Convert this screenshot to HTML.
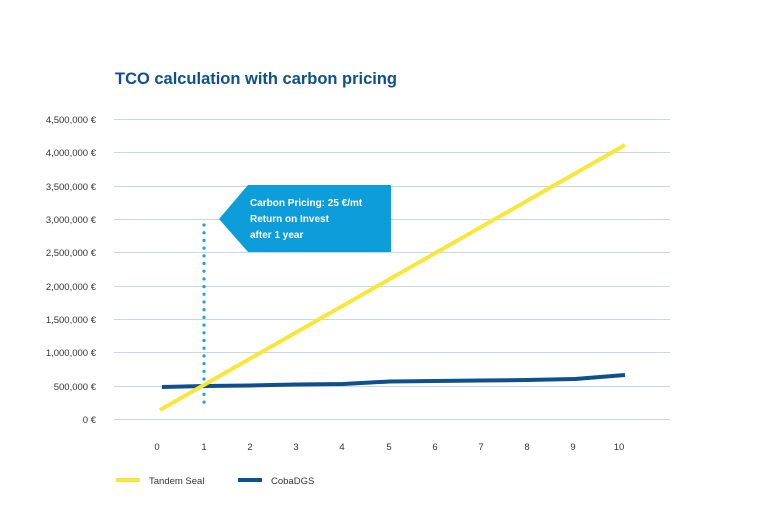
<!DOCTYPE html>
<html><head><style>
body{margin:0;background:#fff;}
svg{display:block;font-family:"Liberation Sans",sans-serif;}
</style></head><body>
<svg width="768" height="523" viewBox="0 0 768 523">
<text x="115" y="84" font-size="16.5" font-weight="bold" fill="#0f4f8c" textLength="282" lengthAdjust="spacingAndGlyphs">TCO calculation with carbon pricing</text>
<g stroke="#c9d8e6" stroke-width="1">
<line x1="114" x2="670" y1="119.5" y2="119.5"/><line x1="114" x2="670" y1="152.5" y2="152.5"/>
<line x1="114" x2="670" y1="186.5" y2="186.5"/><line x1="114" x2="670" y1="219.5" y2="219.5"/>
<line x1="114" x2="670" y1="252.5" y2="252.5"/><line x1="114" x2="670" y1="286.5" y2="286.5"/>
<line x1="114" x2="670" y1="319.5" y2="319.5"/><line x1="114" x2="670" y1="352.5" y2="352.5"/>
<line x1="114" x2="670" y1="386.5" y2="386.5"/><line x1="114" x2="670" y1="419.5" y2="419.5"/>
</g>
<g font-size="9.5" fill="#333" text-anchor="end">
<text x="96" y="123">4,500,000 €</text><text x="96" y="156">4,000,000 €</text>
<text x="96" y="190">3,500,000 €</text><text x="96" y="223">3,000,000 €</text>
<text x="96" y="256">2,500,000 €</text><text x="96" y="290">2,000,000 €</text>
<text x="96" y="323">1,500,000 €</text><text x="96" y="356">1,000,000 €</text>
<text x="96" y="390">500,000 €</text><text x="96" y="423">0 €</text>
</g>
<g font-size="9.5" fill="#333" text-anchor="middle">
<text x="157" y="450">0</text><text x="204" y="450">1</text><text x="250" y="450">2</text>
<text x="296" y="450">3</text><text x="342" y="450">4</text><text x="389" y="450">5</text>
<text x="435" y="450">6</text><text x="481" y="450">7</text><text x="527" y="450">8</text>
<text x="573" y="450">9</text><text x="619" y="450">10</text>
</g>
<polygon points="219,219 248,185 391,185 391,252 248,252" fill="#0d9ddb"/>
<g font-size="10" font-weight="bold" fill="#fff">
<text x="250" y="206">Carbon Pricing: 25 €/mt</text>
<text x="250" y="222">Return on Invest</text>
<text x="250" y="238">after 1 year</text>
</g>
<line x1="204" y1="225" x2="204" y2="409" stroke="#1aa0dc" stroke-width="3.2" stroke-linecap="round" stroke-dasharray="0 7.7"/>
<polyline points="162,387 205,386 250,385.5 296,384.5 343,384 390,381.5 435,381 481,380.5 527,380 575,379 625,375" fill="none" stroke="#0f4f8c" stroke-width="4"/>
<line x1="160" y1="410" x2="625" y2="145" stroke="#f7e73a" stroke-width="4"/>
<line x1="116" y1="480" x2="140" y2="480" stroke="#f7e73a" stroke-width="4"/>
<text x="149" y="484" font-size="9.5" fill="#333">Tandem Seal</text>
<line x1="238" y1="480" x2="262" y2="480" stroke="#0f4f8c" stroke-width="4"/>
<text x="271" y="484" font-size="9.5" fill="#333">CobaDGS</text>
</svg>
</body></html>
